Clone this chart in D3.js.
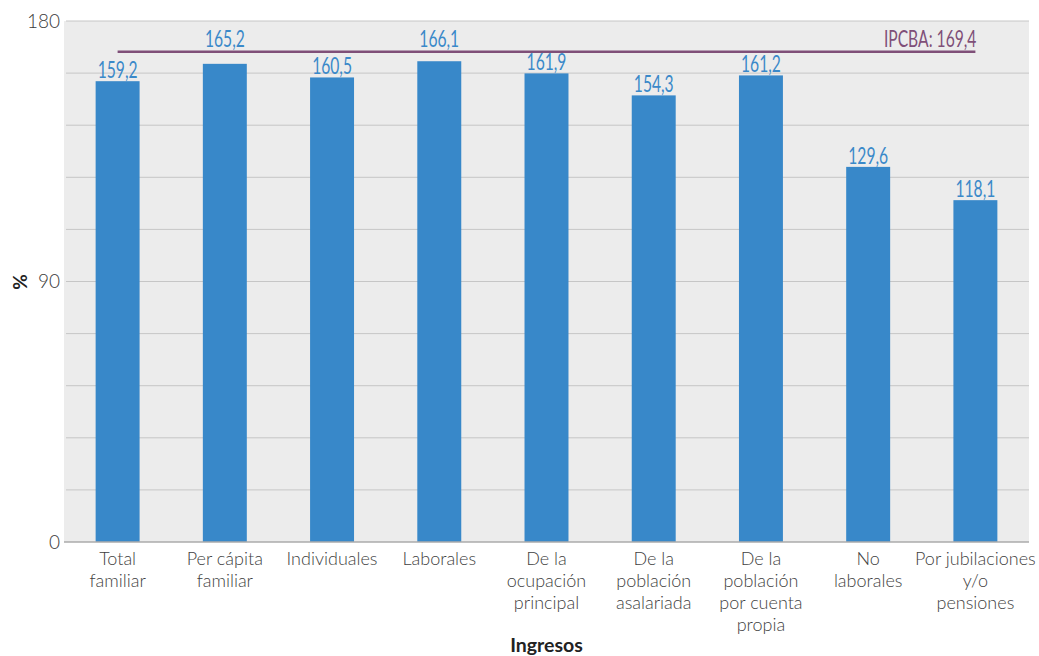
<!DOCTYPE html>
<html><head><meta charset="utf-8">
<script src="https://cdn.jsdelivr.net/npm/d3@7"></script>
<style>body{margin:0;background:#fff}svg{display:block}</style>
</head><body>
<svg id="c" width="1039" height="656"></svg>
<script>
const categories = [
  ["Total","familiar"],
  ["Per cápita","familiar"],
  ["Individuales"],
  ["Laborales"],
  ["De la","ocupación","principal"],
  ["De la","población","asalariada"],
  ["De la","población","por cuenta","propia"],
  ["No","laborales"],
  ["Por jubilaciones","y/o","pensiones"]
];
const values = [159.2, 165.2, 160.5, 166.1, 161.9, 154.3, 161.2, 129.6, 118.1];
const ipcba = 169.4;
const yTickLabels = [0, 90, 180];
const gridTicks = [0,18,36,54,72,90,108,126,144,162,180];

const fmt = v => v.toFixed(1).replace(".", ",");
const svg = d3.select("#c");
const L = 64, R = 1029, T = 21, B = 542;
const x = d3.scaleBand().domain(d3.range(values.length)).range([L, R]).paddingInner(0.59).paddingOuter(0.295);
const y = d3.scaleLinear().domain([0, 180]).range([B, T]);

svg.append("rect").attr("x", L).attr("y", T).attr("width", R - L).attr("height", B - T).attr("fill", "#ececec");

svg.append("g").selectAll("line").data(gridTicks.filter(d => d > 0)).join("line")
  .attr("x1", L + 2).attr("x2", R).attr("y1", d => y(d)).attr("y2", d => y(d))
  .attr("stroke", "#c6c6c6").attr("stroke-width", 1);

const yAxis = d3.axisLeft(y).tickValues(yTickLabels).tickSize(0).tickPadding(4);
const ga = svg.append("g").attr("transform", `translate(${L},0)`).call(yAxis);
ga.select(".domain").remove();
ga.selectAll("text").attr("font-family", "Lato, 'Open Sans', sans-serif").attr("font-size", 19).attr("fill", "#3a3a3a").attr("font-weight", 300);

svg.append("g").selectAll("rect").data(values).join("rect")
  .attr("x", (d, i) => x(i)).attr("width", x.bandwidth())
  .attr("y", d => y(d)).attr("height", d => B - y(d))
  .attr("fill", "#3888c9");

svg.append("line").attr("x1", L).attr("x2", R).attr("y1", B).attr("y2", B)
  .attr("stroke", "#ababab").attr("stroke-width", 1.5);

// IPCBA line
const ly = y(ipcba);
const cx = i => x(i) + x.bandwidth() / 2;
svg.append("line").attr("x1", cx(0)).attr("x2", cx(values.length - 1)).attr("y1", ly).attr("y2", ly)
  .attr("stroke", "#7f4f78").attr("stroke-width", 2.5);

const condensed = (g, px, py, txt, color, anchor) => {
  g.append("g").attr("transform", `translate(${px},${py}) scale(0.68,1)`)
    .append("text").attr("text-anchor", anchor).attr("font-family", "Lato, Roboto, sans-serif")
    .attr("font-weight", 400).attr("font-size", 23).attr("fill", color).text(txt);
};
const lab = svg.append("g");
condensed(lab, cx(values.length - 1) + 1, ly - 5, "IPCBA: " + fmt(ipcba), "#7f4f78", "end");

values.forEach((v, i) => {
  const by = (v > ipcba - 5) ? ly - 5 : y(v) - 3;
  condensed(lab, cx(i), by, fmt(v), "#3a89c9", "middle");
});

// category labels
const cg = svg.append("g");
categories.forEach((lines, i) => {
  const t = cg.append("text").attr("text-anchor", "middle").attr("font-family", "Lato, 'Open Sans', sans-serif")
    .attr("font-size", 18).attr("fill", "#3f3f3f").attr("font-weight", 300);
  lines.forEach((s, j) => t.append("tspan").attr("x", cx(i)).attr("y", 565 + j * 22).text(s));
});

svg.append("text").attr("x", (L + R) / 2).attr("y", 652).attr("text-anchor", "middle")
  .attr("font-family", "Lato, sans-serif").attr("font-weight", 700).attr("font-size", 19.5).attr("fill", "#222").text("Ingresos");

svg.append("text").attr("transform", `translate(27,282) rotate(-90)`).attr("text-anchor", "middle")
  .attr("font-family", "Lato, sans-serif").attr("font-weight", 700).attr("font-size", 19).attr("fill", "#222").text("%");
</script>
</body></html>
